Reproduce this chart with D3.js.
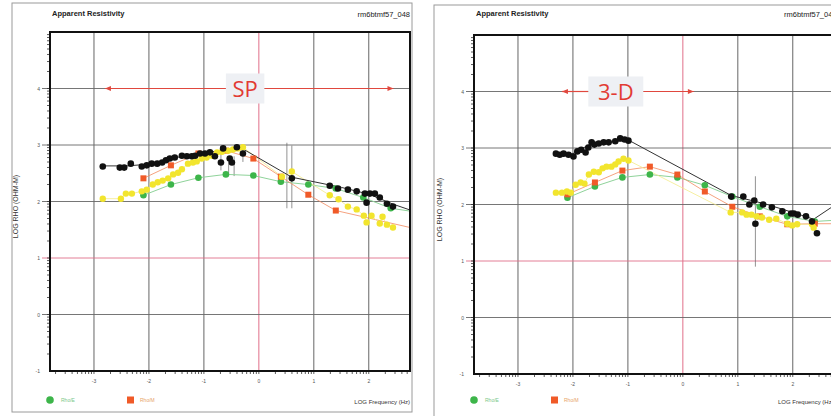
<!DOCTYPE html>
<html>
<head>
<meta charset="utf-8">
<script src="https://cdn.jsdelivr.net/npm/d3@7/dist/d3.min.js"></script>
<style>
  body { margin: 0; background: #fff; }
  svg { display: block; font-family: "Liberation Sans", Arial, sans-serif; }
</style>
</head>
<body>
<script>
// axis ticks
var xTicks = [-3, -2, -1, 0, 1, 2];
var yTicks = [-1, 0, 1, 2, 3, 4];
var xDomain = [-3.8, 2.75];
var yDomain = [-1, 5];

// ---- SP panel (log freq, log rho) ----
var spBlack = [[-2.84,2.62],[-2.53,2.60],[-2.45,2.60],[-2.33,2.67],[-2.13,2.62],[-2.04,2.64],[-1.95,2.67],
  [-1.85,2.67],[-1.76,2.69],[-1.69,2.73],[-1.62,2.76],[-1.53,2.78],[-1.40,2.81],[-1.31,2.80],[-1.22,2.80],
  [-1.16,2.81],[-1.07,2.85],[-0.98,2.85],[-0.89,2.87],[-0.80,2.80],[-0.69,2.69],[-0.65,2.94],[-0.53,2.76],
  [-0.49,2.69],[-0.40,2.96],[-0.29,2.85],[0.60,2.41],[1.29,2.28],[1.44,2.23],[1.62,2.21],[1.78,2.18],
  [1.93,2.14],[1.96,1.98],[2.02,2.14],[2.11,2.14],[2.20,2.07],[2.33,1.96],[2.44,1.91]];
var spBlackModel = [[-2.84,2.63],[-2.4,2.63],[-2.0,2.66],[-1.5,2.78],[-1.0,2.86],[-0.6,2.91],[-0.29,2.93],
  [0.60,2.43],[1.5,2.25],[2.0,2.13],[2.45,1.95],[2.75,1.85]];
var spYellow = [[-2.84,2.05],[-2.51,2.05],[-2.42,2.14],[-2.31,2.14],[-2.13,2.18],[-2.04,2.21],[-1.93,2.30],
  [-1.84,2.34],[-1.75,2.37],[-1.65,2.41],[-1.56,2.48],[-1.47,2.51],[-1.40,2.57],[-1.29,2.67],[-1.20,2.69],
  [-1.13,2.71],[-1.04,2.76],[-0.95,2.78],[-0.85,2.81],[-0.76,2.87],[-0.67,2.88],[-0.56,2.90],[-0.47,2.92],
  [-0.38,2.94],[-0.29,2.96],[0.42,2.44],[0.60,2.53],[1.29,2.11],[1.45,2.04],[1.62,1.91],[1.78,1.86],
  [1.91,1.75],[1.96,1.63],[2.05,1.75],[2.20,1.61],[2.25,1.73],[2.33,1.59],[2.44,1.54]];
var spOrange = [[-2.1,2.41],[-1.6,2.64],[-1.1,2.85],[-0.6,2.90],[-0.1,2.76],[0.4,2.44],[0.9,2.12],[1.4,1.84]];
var spOrangeTail = [[1.4,1.84],[2.75,1.54]];
var spGreen = [[-2.1,2.11],[-1.6,2.30],[-1.1,2.42],[-0.6,2.48],[-0.1,2.46],[0.4,2.35],[0.9,2.30],
  [1.4,2.23],[1.9,2.07],[2.4,1.88]];
var spGreenTail = [[2.4,1.88],[2.75,1.83]];
var spErrBars = [[-0.69,2.55,2.86],[-0.55,2.45,2.80],[-0.45,2.45,2.80],[-0.29,2.70,2.95],[0.51,1.88,3.04],[0.60,1.88,2.99]];

// ---- 3-D panel ----
var d3Black = [[-2.31,2.90],[-2.24,2.88],[-2.17,2.90],[-2.08,2.88],[-1.99,2.85],[-1.92,2.94],[-1.85,2.97],
  [-1.77,2.92],[-1.72,3.01],[-1.66,3.10],[-1.61,3.06],[-1.53,3.08],[-1.44,3.10],[-1.35,3.10],[-1.23,3.12],
  [-1.14,3.17],[-1.06,3.15],[-0.99,3.13],[0.88,2.14],[1.10,2.14],[1.21,2.00],[1.30,2.07],[1.32,1.66],
  [1.46,2.00],[1.62,1.95],[1.81,1.88],[1.97,1.84],[2.02,1.84],[2.09,1.82],[2.24,1.79],[2.35,1.70],[2.44,1.49]];
var d3BlackModel = [[-2.31,2.89],[-2.0,2.90],[-1.7,3.06],[-1.3,3.11],[-0.99,3.14],[0.88,2.16],[1.5,2.01],
  [2.0,1.86],[2.38,1.74],[2.75,1.98]];
var d3Yellow = [[-2.31,2.21],[-2.20,2.21],[-2.11,2.23],[-2.04,2.21],[-1.95,2.35],[-1.86,2.39],[-1.79,2.37],
  [-1.71,2.53],[-1.62,2.58],[-1.53,2.57],[-1.46,2.64],[-1.39,2.67],[-1.30,2.67],[-1.23,2.71],[-1.17,2.76],
  [-1.08,2.81],[-0.99,2.78],[0.87,1.86],[1.08,1.86],[1.16,1.82],[1.25,1.82],[1.34,1.79],[1.44,1.77],
  [1.57,1.73],[1.70,1.75],[1.90,1.66],[1.99,1.63],[2.08,1.65],[2.35,1.65],[2.38,1.59]];
var d3Orange = [[-2.1,2.18],[-1.6,2.39],[-1.1,2.60],[-0.6,2.67],[-0.1,2.53],[0.4,2.23],[0.9,1.96],
  [1.4,1.79],[1.9,1.65],[2.4,1.66]];
var d3OrangeTail = [[2.4,1.66],[2.75,1.66]];
var d3Green = [[-2.1,2.12],[-1.6,2.32],[-1.1,2.48],[-0.6,2.53],[-0.1,2.48],[0.4,2.34],[0.9,2.14],
  [1.4,1.96],[1.9,1.79],[2.4,1.70]];
var d3GreenTail = [[2.4,1.70],[2.75,1.72]];
var d3ErrBars = [[1.32,0.9,2.5]];

var legendLabels = ["Rho/E", "Rho/M"];
var titleText = "Apparent Resistivity";
var siteText = "rm6btmf57_048";

var width = 831, height = 416;
var svg = d3.select('body').append('svg')
    .attr('width', width)
    .attr('height', height);

var panels = [
  { frame: [12, 3, 400, 409], plot: [50, 32, 360, 339], label: "SP", arrow: [-2.8, 2.45], box: [-0.6, 0.1],
    black: spBlack, model: spBlackModel, yellow: spYellow, orange: spOrange, green: spGreen, err: spErrBars,
    orangeTail: spOrangeTail, greenTail: spGreenTail },
  { frame: [434, 5, 410, 412], plot: [474, 35, 360, 339], label: "3-D", arrow: [-2.2, 0.2], box: [-1.72, -0.72],
    black: d3Black, model: d3BlackModel, yellow: d3Yellow, orange: d3Orange, green: d3Green, err: d3ErrBars,
    orangeTail: d3OrangeTail, greenTail: d3GreenTail }
];

panels.forEach(function(p, i){ drawPanel(p, i); });

function drawPanel(p, idx){
    var g = svg.append('g');
    var px = p.plot[0], py = p.plot[1], pw = p.plot[2], ph = p.plot[3];
    var x = d3.scaleLinear().domain(xDomain).range([px, px + pw]);
    var y = d3.scaleLinear().domain(yDomain).range([py + ph, py]);

    // outer frame
    g.append('rect')
        .attr('x', p.frame[0]).attr('y', p.frame[1])
        .attr('width', p.frame[2]).attr('height', p.frame[3])
        .attr('fill', '#fff').attr('stroke', '#9a9a9a').attr('stroke-width', 1);

    g.append('text').attr('x', px + 2).attr('y', 16)
        .attr('font-size', 7.5).attr('font-weight', 'bold').attr('fill', '#222')
        .text(titleText);
    // site id is right-aligned on the panel; on the cropped right panel it runs past the edge as in the source
    g.append('text').attr('x', idx === 0 ? px + pw : 784).attr('y', 17)
        .attr('text-anchor', idx === 0 ? 'end' : 'start').attr('font-size', 7.5).attr('fill', '#222')
        .text(siteText);

    var clipId = 'clip' + idx;
    g.append('clipPath').attr('id', clipId)
        .append('rect').attr('x', px).attr('y', py).attr('width', pw).attr('height', ph);

    // grid
    var grid = g.append('g');
    grid.selectAll('.gx').data(xTicks).enter().append('line')
        .attr('x1', function(d){ return x(d); }).attr('x2', function(d){ return x(d); })
        .attr('y1', py).attr('y2', py + ph)
        .attr('stroke', function(d){ return d === 0 ? '#e0708a' : '#555' })
        .attr('stroke-width', function(d){ return d === 0 ? 1 : 0.9 });
    grid.selectAll('.gy').data(yTicks.filter(function(d){ return d > yDomain[0]; })).enter().append('line')
        .attr('x1', px - 8).attr('x2', px + pw)
        .attr('y1', function(d){ return y(d); }).attr('y2', function(d){ return y(d); })
        .attr('stroke', function(d){ return d === 1 ? '#e0708a' : '#666' })
        .attr('stroke-width', 0.9);

    // minor log ticks
    var minorX = [], minorY = [];
    for (var dec = -4; dec <= 4; dec++){
        for (var k = 1; k <= 9; k++){
            var v = dec + Math.log10(k);
            if (v > xDomain[0] && v < xDomain[1]) minorX.push(v);
            if (v > yDomain[0] && v < yDomain[1]) minorY.push(v);
        }
    }
    g.append('g').selectAll('line').data(minorX).enter().append('line')
        .attr('x1', function(d){ return x(d); }).attr('x2', function(d){ return x(d); })
        .attr('y1', py + ph).attr('y2', py + ph + 3)
        .attr('stroke', '#333').attr('stroke-width', 0.8);
    g.append('g').selectAll('line').data(minorY).enter().append('line')
        .attr('x1', px - 3).attr('x2', px)
        .attr('y1', function(d){ return y(d); }).attr('y2', function(d){ return y(d); })
        .attr('stroke', '#333').attr('stroke-width', 0.8);

    // tick labels
    g.append('g').selectAll('text').data(xTicks).enter().append('text')
        .attr('x', function(d){ return x(d); }).attr('y', py + ph + 12)
        .attr('text-anchor', 'middle').attr('font-size', 5).attr('fill', '#555')
        .text(function(d){ return d; });
    g.append('g').selectAll('text').data(yTicks).enter().append('text')
        .attr('x', px - 10).attr('y', function(d){ return y(d) + 2; })
        .attr('text-anchor', 'end').attr('font-size', 5).attr('fill', '#555')
        .text(function(d){ return d; });

    // axis titles
    g.append('text')
        .attr('transform', 'translate(' + (px - 32) + ',' + (y(2) + 5) + ') rotate(-90)')
        .attr('text-anchor', 'middle').attr('font-size', 7).attr('fill', '#333')
        .text('LOG RHO (OHM-M)');
    g.append('text').attr('x', idx === 0 ? px + pw : 778).attr('y', 404)
        .attr('text-anchor', idx === 0 ? 'end' : 'start').attr('font-size', 6).attr('fill', '#333')
        .text('LOG Frequency (Hz)');

    // annotation arrow and label
    var ay = y(4);
    var ann = g.append('g');
    var arrowColor = '#e0483e';
    ann.append('line').attr('x1', x(p.arrow[0])).attr('x2', x(p.box[0]))
        .attr('y1', ay).attr('y2', ay).attr('stroke', arrowColor).attr('stroke-width', 1.2);
    ann.append('line').attr('x1', x(p.box[1])).attr('x2', x(p.arrow[1]))
        .attr('y1', ay).attr('y2', ay).attr('stroke', arrowColor).attr('stroke-width', 1.2);
    [[p.arrow[0], 1], [p.arrow[1], -1]].forEach(function(a){
        var ax = x(a[0]);
        ann.append('path')
            .attr('d', 'M' + ax + ',' + ay + 'l' + (a[1] * 6) + ',-2.5l0,5z')
            .attr('fill', arrowColor);
    });
    ann.append('rect').attr('x', x(p.box[0])).attr('y', ay - 15)
        .attr('width', x(p.box[1]) - x(p.box[0])).attr('height', 30)
        .attr('fill', '#eef0f4');
    ann.append('text').attr('x', (x(p.box[0]) + x(p.box[1])) / 2).attr('y', ay + 8)
        .attr('text-anchor', 'middle').attr('font-size', 22)
        .attr('font-family', '"Open Sans", "Noto Sans", sans-serif')
        .attr('fill', '#e23b33').text(p.label);

    // data
    var data = g.append('g').attr('clip-path', 'url(#' + clipId + ')');
    var line = d3.line().x(function(d){ return x(d[0]); }).y(function(d){ return y(d[1]); });

    data.append('g').selectAll('line').data(p.err).enter().append('line')
        .attr('x1', function(d){ return x(d[0]); }).attr('x2', function(d){ return x(d[0]); })
        .attr('y1', function(d){ return y(d[1]); }).attr('y2', function(d){ return y(d[2]); })
        .attr('stroke', '#666').attr('stroke-width', 1).attr('opacity', 0.7);

    [[p.green, '#8fd39a', 1], [p.greenTail, '#8fd39a', 1], [p.orange, '#f28a60', 0.8],
     [p.orangeTail, '#f28a60', 0.8], [p.yellow, '#f4eb8a', 0.8], [p.model, '#333', 1]].forEach(function(s){
        data.append('path').datum(s[0]).attr('d', line)
            .attr('fill', 'none').attr('stroke', s[1]).attr('stroke-width', s[2]);
    });

    data.append('g').selectAll('circle').data(p.green).enter().append('circle')
        .attr('cx', function(d){ return x(d[0]); }).attr('cy', function(d){ return y(d[1]); })
        .attr('r', 3.3).attr('fill', '#3db54a');
    data.append('g').selectAll('rect').data(p.orange).enter().append('rect')
        .attr('x', function(d){ return x(d[0]) - 3; }).attr('y', function(d){ return y(d[1]) - 3; })
        .attr('width', 6).attr('height', 6).attr('fill', '#f05a28');
    data.append('g').selectAll('circle').data(p.yellow).enter().append('circle')
        .attr('cx', function(d){ return x(d[0]); }).attr('cy', function(d){ return y(d[1]); })
        .attr('r', 3.2).attr('fill', '#f2e52e');
    data.append('g').selectAll('circle').data(p.black).enter().append('circle')
        .attr('cx', function(d){ return x(d[0]); }).attr('cy', function(d){ return y(d[1]); })
        .attr('r', 3.3).attr('fill', '#111');

    // plot border
    g.append('rect').attr('x', px).attr('y', py).attr('width', pw).attr('height', ph)
        .attr('fill', 'none').attr('stroke', '#111').attr('stroke-width', 2);

    // legend
    var ly = 400;
    g.append('circle').attr('cx', px).attr('cy', ly).attr('r', 3.8).attr('fill', '#3db54a');
    g.append('text').attr('x', px + 11).attr('y', ly + 2).attr('font-size', 5)
        .attr('fill', '#7cc889').text(legendLabels[0]);
    g.append('rect').attr('x', px + 77).attr('y', ly - 3.5).attr('width', 7).attr('height', 7)
        .attr('fill', '#f05a28');
    g.append('text').attr('x', px + 90).attr('y', ly + 2).attr('font-size', 5)
        .attr('fill', '#e8a46a').text(legendLabels[1]);
}
</script>
</body>
</html>
